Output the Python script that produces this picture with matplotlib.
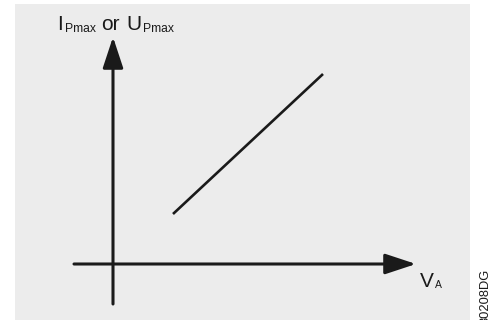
import matplotlib.pyplot as plt

plt.rcParams['font.family'] = ['Liberation Sans', 'DejaVu Sans']

# schematic line: I_Pmax (or U_Pmax) versus V_A
va = [0.6, 2.1]
ip = [0.5, 1.9]

# extent of the drawn axes (arrow start / tip)
x_axis = [-0.39, 3.03]
y_axis = [-0.40, 2.27]

# label pieces: (text, fontsize, baseline shift in points, gap before in points)
ylabel = [('I', 15, 0, 0), ('Pmax', 8.7, -1.4, 1.5), ('or', 15, 0, 3.8),
          ('U', 15, 0, 5.0), ('Pmax', 8.7, -1.4, 0.8)]
xlabel = [('V', 15, 0, 0), ('A', 7.5, -0.7, 1.0)]
figcode = '30208DG'

ink = '#1a1a1a'

fig = plt.figure(figsize=(4.88, 3.2), dpi=100, facecolor='white')
ax = fig.add_axes([15 / 488, 0, 455 / 488, 316 / 320])
ax.set_facecolor('#ececec')
ax.set_xlim(-0.98, 3.57)
ax.set_ylim(-0.56, 2.60)
for s in ax.spines.values():
    s.set_visible(False)
ax.set_xticks([])
ax.set_yticks([])

arrow = dict(arrowstyle='-|>,head_length=1.0,head_width=0.33', color=ink,
             lw=2.2, mutation_scale=19, shrinkA=0, shrinkB=0)
ax.annotate('', xy=(x_axis[1], 0), xytext=(x_axis[0], 0), arrowprops=arrow)
ax.annotate('', xy=(0, y_axis[1]), xytext=(0, y_axis[0]), arrowprops=arrow)

ax.plot(va, ip, color=ink, lw=1.9, solid_capstyle='butt')


def put_label(pieces, x, y):
    renderer = fig.canvas.get_renderer()
    off = 0.0
    for txt, size, dy, gap in pieces:
        off += gap
        t = ax.annotate(txt, xy=(x, y), xytext=(off, dy), textcoords='offset points',
                        fontsize=size, ha='left', va='baseline', color=ink)
        off += t.get_window_extent(renderer).width * 72 / fig.dpi


put_label(ylabel, -0.56, 2.34)
put_label(xlabel, 3.07, -0.23)

# figure code, cut off at the bottom edge as in the original
fig.text(480 / 488, 1 - 269 / 320, figcode, rotation=90, fontsize=9.3,
         ha='left', va='top', color=ink)

fig.savefig('out.png', dpi=100, facecolor='white')
